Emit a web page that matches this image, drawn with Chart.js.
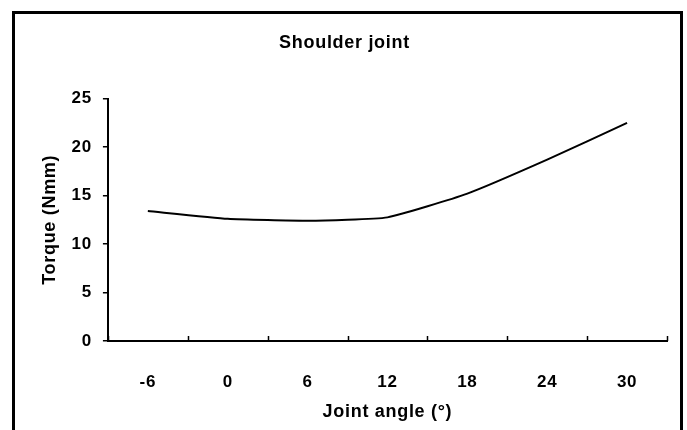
<!DOCTYPE html>
<html>
<head>
<meta charset="utf-8">
<script src="https://cdn.jsdelivr.net/npm/chart.js@4.4.0/dist/chart.umd.min.js"></script>
<style>
  html, body { margin: 0; padding: 0; background: #fff; }
  .wrap { position: relative; width: 687px; height: 430px; }
  .frame {
    position: absolute; left: 12px; top: 11px; width: 665px; height: 440px;
    border: 3px solid #000; box-sizing: content-box; pointer-events: none;
  }
  canvas { position: absolute; left: 0; top: 0; }
</style>
</head>
<body>
<div class="wrap">
  <canvas id="chart" width="687" height="430"></canvas>
  <div class="frame"></div>
</div>
<script>
// joint angles (deg) and measured torque
const angles = ["-6", "0", "6", "12", "18", "24", "30"];
const torque = [13.4, 12.6, 12.4, 12.75, 15.2, 18.7, 22.5];
const yTicks = [0, 5, 10, 15, 20, 25];

const font = "'Liberation Sans', Arial, sans-serif";

// the original text is set a bit wider
const spacing = {
  id: "spacing",
  beforeUpdate(chart) {
    chart.ctx.letterSpacing = "0.7px";
  },
  beforeDraw(chart) {
    chart.ctx.letterSpacing = "0.7px";
  },
};

// ticks on the x axis point up into the plot, between categories
const innerTicks = {
  id: "innerTicks",
  afterDraw(chart) {
    const x = chart.scales.x;
    const ctx = chart.ctx;
    ctx.save();
    ctx.strokeStyle = "#000";
    ctx.lineWidth = 1.5;
    ctx.beginPath();
    for (let i = 0; i <= angles.length; i++) {
      const px = Math.round(x.getPixelForValue(i - 0.5)) + 0.5;
      ctx.moveTo(px, x.top);
      ctx.lineTo(px, x.top - 5);
    }
    ctx.stroke();
    ctx.restore();
  },
};

new Chart(document.getElementById("chart"), {
  type: "line",
  data: {
    labels: angles,
    datasets: [
      {
        data: torque,
        borderColor: "#000",
        borderWidth: 2,
        pointRadius: 0,
        tension: 0.15,
        fill: false,
      },
    ],
  },
  options: {
    responsive: false,
    animation: false,
    layout: { padding: { left: 22, right: 20, top: 20, bottom: 7 } },
    plugins: {
      legend: { display: false },
      tooltip: { enabled: false },
      title: {
        display: true,
        text: "Shoulder joint",
        color: "#000",
        font: { family: font, size: 18, weight: "bold" },
        padding: { top: 12, bottom: 45 },
      },
    },
    scales: {
      x: {
        offset: true,
        grid: { display: false, offset: true, tickLength: 28 },
        border: { color: "#000", width: 2 },
        ticks: { color: "#000", font: { family: font, size: 17, weight: "bold" }, padding: 3 },
        title: {
          display: true,
          text: "Joint angle (°)",
          color: "#000",
          font: { family: font, size: 18, weight: "bold" },
          padding: { top: 6, bottom: 0 },
        },
      },
      y: {
        min: 0,
        max: 25,
        afterBuildTicks(scale) {
          scale.ticks = yTicks.map((v) => ({ value: v }));
        },
        grid: { drawOnChartArea: false, tickLength: 5, color: "#000", lineWidth: 1.5 },
        border: { color: "#000", width: 2 },
        ticks: { color: "#000", font: { family: font, size: 17, weight: "bold" }, padding: 11 },
        title: {
          display: true,
          text: "Torque (Nmm)",
          color: "#000",
          font: { family: font, size: 18, weight: "bold" },
          padding: { top: 17, bottom: 0 },
        },
      },
    },
  },
  plugins: [spacing, innerTicks],
});
</script>
</body>
</html>
